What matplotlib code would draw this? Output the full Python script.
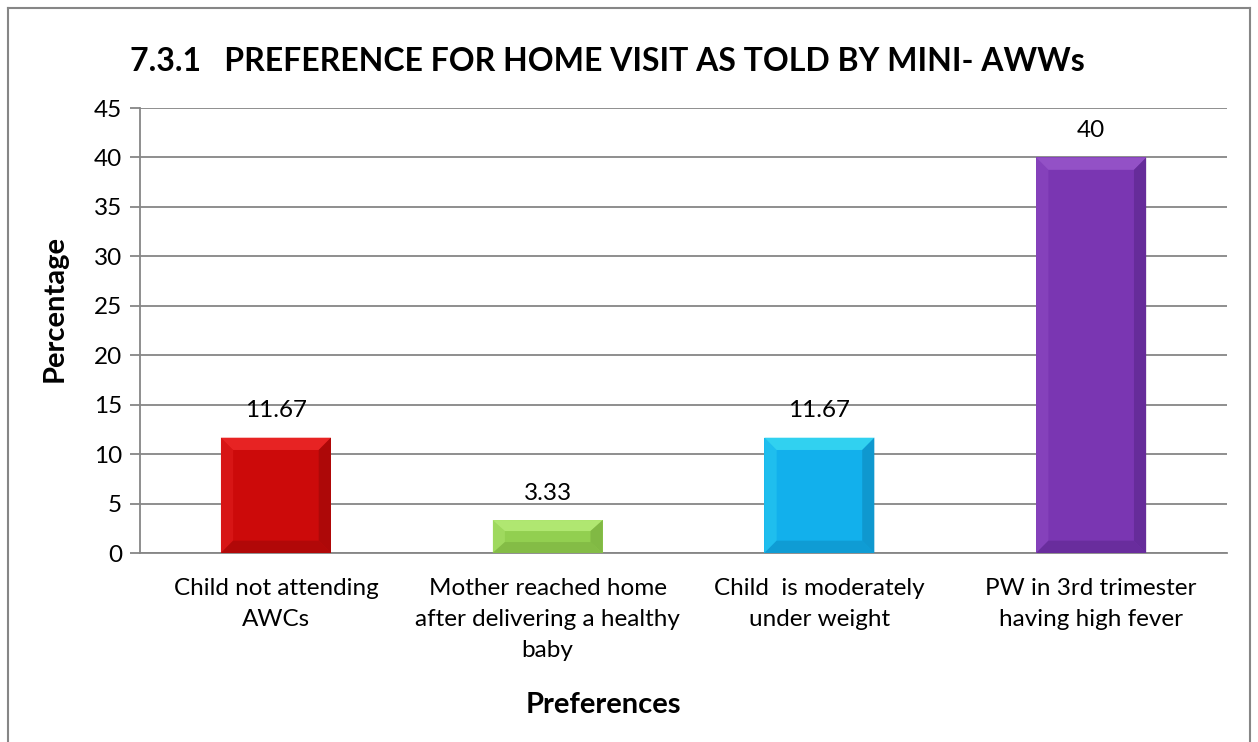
import numpy as np
import matplotlib.pyplot as plt
from matplotlib.patches import Polygon
from matplotlib.lines import Line2D

plt.rcParams['font.family'] = ['Lato', 'DejaVu Sans']

# data
categories = ['Child not attending\nAWCs',
              'Mother reached home\nafter delivering a healthy\nbaby',
              'Child  is moderately\nunder weight',
              'PW in 3rd trimester\nhaving high fever']
values = [11.67, 3.33, 11.67, 40]
value_labels = ['11.67', '3.33', '11.67', '40']
bar_colors = ['#CC0A0A', '#92CF50', '#12B0EC', '#7A36B2']
light_colors = ['#EE2A2A', '#B8EE7A', '#3ADAF2', '#9A58CC']
dark_colors = ['#A00808', '#7BB040', '#0E8FC4', '#5E2890']

fig = plt.figure(figsize=(12.58, 7.42), dpi=100)
ax = fig.add_axes([0.1113, 0.2547, 0.8641, 0.5997])

x = np.arange(len(values))
bw = 0.405
bars = ax.bar(x, values, width=bw, color=bar_colors, zorder=3)

# simple bevel look: lighter top/left, darker right/bottom
for b, lc, dc in zip(bars, light_colors, dark_colors):
    x0, y0 = b.get_x(), b.get_y()
    w, h = b.get_width(), b.get_height()
    dx = 0.045
    dy = min(1.25, h / 3)
    top = [(x0, y0 + h), (x0 + w, y0 + h), (x0 + w - dx, y0 + h - dy), (x0 + dx, y0 + h - dy)]
    left = [(x0, y0), (x0, y0 + h), (x0 + dx, y0 + h - dy), (x0 + dx, y0 + dy)]
    right = [(x0 + w, y0), (x0 + w, y0 + h), (x0 + w - dx, y0 + h - dy), (x0 + w - dx, y0 + dy)]
    bottom = [(x0, y0), (x0 + w, y0), (x0 + w - dx, y0 + dy), (x0 + dx, y0 + dy)]
    ax.add_patch(Polygon(top, closed=True, color=lc, alpha=0.8, lw=0, zorder=4))
    ax.add_patch(Polygon(left, closed=True, color=lc, alpha=0.35, lw=0, zorder=4))
    ax.add_patch(Polygon(right, closed=True, color=dc, alpha=0.7, lw=0, zorder=4))
    ax.add_patch(Polygon(bottom, closed=True, color=dc, alpha=0.6, lw=0, zorder=4))

for xi, v, lab in zip(x, values, value_labels):
    ax.text(xi, v + 2.7, lab, ha='center', va='center', fontsize=17.5, color='black')

ax.set_xlim(-0.5, len(values) - 0.5)
ax.set_ylim(0, 45)
ax.set_yticks(np.arange(0, 46, 5))
ax.yaxis.grid(True, color='#868686', lw=1.3, zorder=0)
ax.set_axisbelow(True)
ax.set_xticks(x)
ax.set_xticklabels(categories, fontsize=17.5, linespacing=1.6)
ax.tick_params(axis='y', labelsize=17.5, length=7, color='#868686', width=1.3, pad=6)
ax.tick_params(axis='x', length=0, pad=18)
for s in ['top', 'right']:
    ax.spines[s].set_visible(False)
for s in ['left', 'bottom']:
    ax.spines[s].set_color('#868686')
    ax.spines[s].set_linewidth(1.3)

ax.set_ylabel('Percentage', fontsize=21, fontweight='bold')
ax.yaxis.set_label_coords(-0.079, 0.55)
ax.set_xlabel('Preferences', fontsize=21, fontweight='bold')
ax.xaxis.set_label_coords(0.426, -0.342)
ax.xaxis.label.set_va('center')
ax.yaxis.label.set_va('center')
fig.text(0.483, 0.917, '7.3.1   PREFERENCE FOR HOME VISIT AS TOLD BY MINI- AWWs',
         ha='center', va='center', fontsize=23, fontweight='bold')

# chart frame (no bottom edge visible)
fx0, fx1, fy1 = 8 / 1258, 1250 / 1258, 1 - 8 / 742
for xs, ys in [([fx0, fx0], [0, fy1]), ([fx0, fx1], [fy1, fy1]), ([fx1, fx1], [fy1, 0])]:
    fig.add_artist(Line2D(xs, ys, color='#868686', lw=1.5, transform=fig.transFigure))

fig.savefig('out.png', dpi=100)
